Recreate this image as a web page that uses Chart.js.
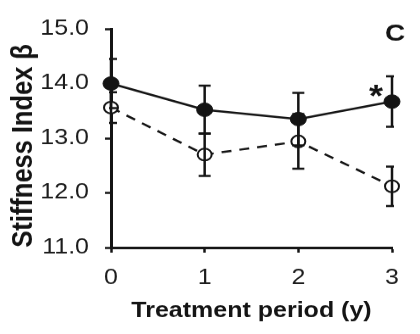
<!DOCTYPE html>
<html>
<head>
<meta charset="utf-8">
<script src="https://cdn.jsdelivr.net/npm/chart.js@4.4.1/dist/chart.umd.min.js"></script>
<style>
  html, body { margin: 0; padding: 0; background: #fff; }
</style>
</head>
<body>
<!-- drawn taller, then squeezed to 334px like the original figure -->
<canvas id="myChart" width="420" height="394" style="display:block;width:420px;height:334px"></canvas>
<script>
// values
const years = [0, 1, 2, 3]
const solidMeans = [14.0, 13.52, 13.35, 13.67]
const solidErrors = [0.45, 0.44, 0.48, 0.46]
const openMeans = [13.56, 12.70, 12.94, 12.12]
const openErrors = [0.28, 0.39, 0.50, 0.36]
const yTicks = [11, 12, 13, 14, 15]
const xTicks = [0, 1, 2, 3]
const yTitle = 'Stiffness Index β'
const xTitle = 'Treatment period (y)'
const panelLabel = 'C'
const starIndex = 3 // the * next to the solid point at 3 y

const ink = '#141414'
const fontFamily = '"Liberation Sans", Arial, sans-serif'

// error bars, the *, the y title and the panel letter
const extras = {
    id: 'extras',
    afterDatasetsDraw(chart) {
        const ctx = chart.ctx
        const area = chart.chartArea
        const x = chart.scales.x
        const y = chart.scales.y
        const sets = [[solidMeans, solidErrors], [openMeans, openErrors]]
        ctx.save()
        ctx.beginPath()
        ctx.rect(area.left - 2, 0, area.right - area.left + 4, chart.height)
        ctx.clip()
        ctx.strokeStyle = ink
        ctx.lineWidth = 2.5
        sets.forEach(([means, errs]) => {
            years.forEach((yr, i) => {
                const px = x.getPixelForValue(yr)
                const top = y.getPixelForValue(means[i] + errs[i])
                const bot = y.getPixelForValue(means[i] - errs[i])
                ctx.beginPath()
                ctx.moveTo(px, top)
                ctx.lineTo(px, bot)
                ctx.moveTo(px - 6, top)
                ctx.lineTo(px + 6, top)
                ctx.moveTo(px - 6, bot)
                ctx.lineTo(px + 6, bot)
                ctx.stroke()
            })
        })
        ctx.restore()

        ctx.save()
        ctx.fillStyle = ink
        ctx.textAlign = 'center'
        ctx.textBaseline = 'alphabetic'
        ctx.font = 'bold 36px ' + fontFamily
        const sx = x.getPixelForValue(years[starIndex]) - 16
        const sy = y.getPixelForValue(solidMeans[starIndex]) + 6
        ctx.fillText('*', sx, sy)

        ctx.font = 'bold 28px ' + fontFamily
        ctx.textBaseline = 'middle'
        ctx.fillText(panelLabel, 395, 40)

        // y title, a bit below the middle of the axis like the original
        ctx.translate(32, 172)
        ctx.rotate(-Math.PI / 2)
        ctx.textBaseline = 'alphabetic'
        ctx.font = 'bold 30px ' + fontFamily
        ctx.fillText(yTitle, 0, 0)
        ctx.restore()
    }
}

const data = {
    labels: years,
    datasets: [{
        label: 'solid',
        data: years.map((yr, i) => ({ x: yr, y: solidMeans[i] })),
        borderColor: ink,
        borderWidth: 2.5,
        pointRadius: 8,
        pointBackgroundColor: ink,
        pointBorderColor: ink,
        pointBorderWidth: 1,
        tension: 0,
        clip: false
    }, {
        label: 'open',
        data: years.map((yr, i) => ({ x: yr, y: openMeans[i] })),
        borderColor: ink,
        borderWidth: 2.5,
        borderDash: [10, 8],
        pointRadius: 7,
        pointBackgroundColor: '#fff',
        pointBorderColor: ink,
        pointBorderWidth: 2,
        tension: 0,
        clip: false
    }]
}

const config = {
    type: 'line',
    data: data,
    options: {
        responsive: false,
        devicePixelRatio: 1,
        animation: false,
        layout: { padding: { top: 34, right: 28, left: 0, bottom: 0 } },
        plugins: { legend: { display: false }, tooltip: { enabled: false } },
        scales: {
            x: {
                type: 'linear',
                min: 0,
                max: 3,
                afterFit: (scale) => { scale.height = 102 },
                afterBuildTicks: (scale) => { scale.ticks = xTicks.map(v => ({ value: v })) },
                grid: { drawOnChartArea: false, drawTicks: true, tickLength: 6, tickColor: ink, tickWidth: 2.5 },
                border: { display: true, color: ink, width: 3 },
                ticks: {
                    color: '#1c1c1c',
                    padding: 15,
                    font: { family: fontFamily, size: 25 }
                },
                title: {
                    display: true,
                    text: xTitle,
                    color: ink,
                    padding: { top: 0, bottom: 12 },
                    font: { family: fontFamily, size: 25, weight: 'bold' }
                }
            },
            y: {
                min: 11,
                max: 15,
                afterFit: (scale) => { scale.width = 111 },
                afterBuildTicks: (scale) => { scale.ticks = yTicks.map(v => ({ value: v })) },
                grid: { drawOnChartArea: false, drawTicks: true, tickLength: 6, tickColor: ink, tickWidth: 2.5 },
                border: { display: true, color: ink, width: 3 },
                ticks: {
                    color: '#1c1c1c',
                    padding: 16,
                    callback: (v) => v.toFixed(1),
                    font: { family: fontFamily, size: 25 }
                },
                title: { display: false }
            }
        }
    },
    plugins: [extras]
}

document.addEventListener('DOMContentLoaded', () => {
    const myChart = new Chart(document.querySelector('#myChart'), config)
})
</script>
</body>
</html>
